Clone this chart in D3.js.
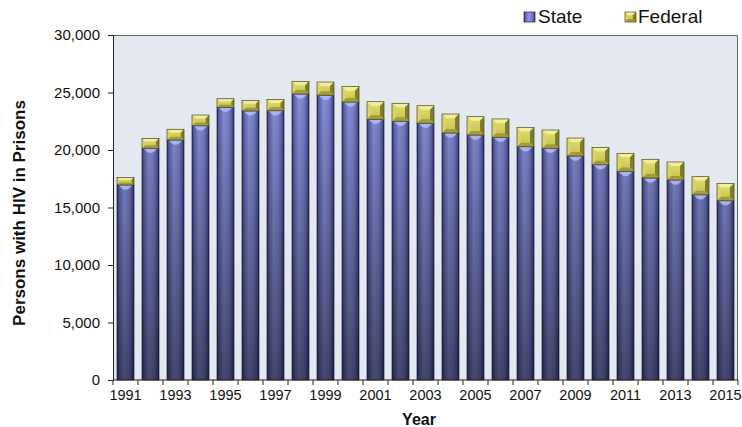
<!DOCTYPE html>
<html>
<head>
<meta charset="utf-8">
<script src="https://cdn.jsdelivr.net/npm/d3@7"></script>
<style>
  body { margin: 0; background: #fff; }
  svg text { font-family: "Liberation Sans", Arial, sans-serif; fill: #111; }
</style>
</head>
<body>
<script>
var years = ["1991", "1992", "1993", "1994", "1995", "1996", "1997", "1998", "1999", "2000",
  "2001", "2002", "2003", "2004", "2005", "2006", "2007", "2008", "2009", "2010",
  "2011", "2012", "2013", "2014", "2015"];
var stateVals = [16960, 20150, 20870, 22110, 23710, 23400, 23420, 24870, 24760, 24170,
  22670, 22500, 22320, 21480, 21300, 21100, 20290, 20150, 19480, 18720,
  18140, 17570, 17390, 16110, 15590];
var federalVals = [660, 860, 930, 930, 750, 900, 980, 1100, 1150, 1340,
  1530, 1560, 1530, 1650, 1600, 1600, 1680, 1590, 1560, 1510,
  1570, 1620, 1570, 1570, 1510];
var yTicks = [0, 5000, 10000, 15000, 20000, 25000, 30000];
var seriesNames = ["State", "Federal"];

var svgWidth = 742, svgHeight = 427;
var margin = { top: 35, right: 4, bottom: 47, left: 113 };
var width = svgWidth - margin.left - margin.right;
var height = svgHeight - margin.top - margin.bottom;

var svg = d3.select("body").append("svg")
  .attr("width", svgWidth)
  .attr("height", svgHeight);

var rows = years.map(function (y, i) {
  return { year: y, State: stateVals[i], Federal: federalVals[i] };
});
var stacked = d3.stack().keys(seriesNames)(rows);

var x = d3.scaleBand().domain(years).range([0, width]).paddingInner(0.32).paddingOuter(0.16);
var y = d3.scaleLinear().domain([0, 30000]).range([height, 0]);

// gradients
var defs = svg.append("defs");
var sg = defs.append("linearGradient").attr("id", "stateH").attr("x1", 0).attr("x2", 1).attr("y1", 0).attr("y2", 0);
[[0, "#2c305c"], [0.1, "#5a60aa"], [0.4, "#8b93dd"], [0.7, "#7a82cc"], [0.9, "#545aa0"], [1, "#23264a"]]
  .forEach(function (s) { sg.append("stop").attr("offset", s[0]).attr("stop-color", s[1]); });
var sv = defs.append("linearGradient").attr("id", "stateV")
  .attr("gradientUnits", "userSpaceOnUse").attr("x1", 0).attr("x2", 0).attr("y1", y(26000)).attr("y2", y(0));
sv.append("stop").attr("offset", 0).attr("stop-color", "#000").attr("stop-opacity", 0);
sv.append("stop").attr("offset", 1).attr("stop-color", "#000").attr("stop-opacity", 0.5);
var fg = defs.append("linearGradient").attr("id", "fedFace").attr("x1", 0).attr("x2", 0).attr("y1", 0).attr("y2", 1);
fg.append("stop").attr("offset", 0).attr("stop-color", "#e2de72");
fg.append("stop").attr("offset", 1).attr("stop-color", "#c4c04e");

var chart = svg.append("g").attr("transform", "translate(" + margin.left + "," + margin.top + ")");

chart.append("rect")
  .attr("width", width).attr("height", height)
  .attr("fill", "#e4e8f1");
chart.append("path")
  .attr("d", "M0,0.5H" + (width - 0.5) + "V" + height)
  .attr("fill", "none").attr("stroke", "#666").attr("stroke-width", 1);

// bevel box used for federal segments and legend
function bevelBox(g, bx, by, bw, bh) {
  var b = Math.min(4, bh / 3.2, bw / 3.2);
  var x0 = bx, x1 = bx + bw, y0 = by, y1 = by + bh;
  g.append("rect").attr("x", x0).attr("y", y0).attr("width", bw).attr("height", bh).attr("fill", "url(#fedFace)");
  g.append("path").attr("d", "M" + x0 + "," + y0 + "L" + x1 + "," + y0 + "L" + (x1 - b) + "," + (y0 + b) + "L" + (x0 + b) + "," + (y0 + b) + "Z").attr("fill", "#f1ee9e");
  g.append("path").attr("d", "M" + x0 + "," + y0 + "L" + (x0 + b) + "," + (y0 + b) + "L" + (x0 + b) + "," + (y1 - b) + "L" + x0 + "," + y1 + "Z").attr("fill", "#d8d46a");
  g.append("path").attr("d", "M" + x1 + "," + y0 + "L" + (x1 - b) + "," + (y0 + b) + "L" + (x1 - b) + "," + (y1 - b) + "L" + x1 + "," + y1 + "Z").attr("fill", "#7f7c2c");
  g.append("path").attr("d", "M" + x0 + "," + y1 + "L" + (x0 + b) + "," + (y1 - b) + "L" + (x1 - b) + "," + (y1 - b) + "L" + x1 + "," + y1 + "Z").attr("fill", "#a09c3a");
  g.append("rect").attr("x", x0).attr("y", y0).attr("width", bw).attr("height", bh)
    .attr("fill", "none").attr("stroke", "#4d4a1c").attr("stroke-width", 0.7);
}

var bars = chart.append("g");
stacked[0].forEach(function (d) {
  var bx = x(d.data.year), bw = x.bandwidth();
  var top = y(d[1]), bh = y(d[0]) - y(d[1]);
  bars.append("rect").attr("x", bx).attr("y", top).attr("width", bw).attr("height", bh).attr("fill", "url(#stateH)");
  bars.append("rect").attr("x", bx).attr("y", top).attr("width", bw).attr("height", bh).attr("fill", "url(#stateV)");
  bars.append("rect").attr("x", bx).attr("y", top).attr("width", bw).attr("height", bh)
    .attr("fill", "none").attr("stroke", "#1f2244").attr("stroke-width", 0.7);
  // light cap at the top of the state column
  bars.append("path")
    .attr("d", "M" + (bx + 2) + "," + (top + 0.5) + "L" + (bx + bw - 2) + "," + (top + 0.5) +
      "Q" + (bx + bw * 0.5) + "," + (top + 9) + "," + (bx + 2) + "," + (top + 0.5) + "Z")
    .attr("fill", "#b4bbf6").attr("opacity", 0.85);
});
stacked[1].forEach(function (d) {
  bevelBox(bars, x(d.data.year), y(d[1]), x.bandwidth(), y(d[0]) - y(d[1]));
});

// axes
var yAxis = chart.append("g")
  .call(d3.axisLeft(y).tickValues(yTicks).tickSize(5).tickSizeOuter(0).tickFormat(d3.format(",")));
yAxis.select(".domain").attr("stroke", "#222");
yAxis.selectAll(".tick line").attr("stroke", "#222");
yAxis.selectAll("text").attr("font-size", "15px").attr("x", -13).attr("fill", "#111");

var xAxis = chart.append("g").attr("transform", "translate(0," + height + ")");
xAxis.append("line").attr("x1", 0).attr("x2", width).attr("stroke", "#222");
var step = x.step();
xAxis.selectAll("line.tk")
  .data(years.concat(["end"]))
  .enter().append("line").attr("class", "tk")
  .attr("x1", function (d, i) { return i * step; })
  .attr("x2", function (d, i) { return i * step; })
  .attr("y1", 0).attr("y2", 5).attr("stroke", "#222");
xAxis.selectAll("text.lb")
  .data(years.filter(function (d, i) { return i % 2 === 0; }))
  .enter().append("text").attr("class", "lb")
  .attr("x", function (d) { return x(d) + x.bandwidth() / 2; })
  .attr("y", 20)
  .attr("text-anchor", "middle")
  .attr("font-size", "14.5px")
  .text(function (d) { return d; });

svg.append("text")
  .attr("x", 419).attr("y", 425)
  .attr("text-anchor", "middle")
  .attr("font-size", "16px").attr("font-weight", "bold")
  .text("Year");

svg.append("text")
  .attr("transform", "translate(25," + 213 + ") rotate(-90)")
  .attr("text-anchor", "middle")
  .attr("font-size", "17px").attr("font-weight", "bold")
  .text("Persons with HIV in Prisons");

// legend
var legend = svg.append("g");
var ls = legend.append("g");
ls.append("rect").attr("x", 524).attr("y", 12).attr("width", 11).attr("height", 10).attr("fill", "url(#stateH)");
ls.append("rect").attr("x", 524).attr("y", 12).attr("width", 11).attr("height", 10)
  .attr("fill", "none").attr("stroke", "#1f2244").attr("stroke-width", 0.7);
legend.append("text").attr("x", 538).attr("y", 23).attr("font-size", "19px").text(seriesNames[0]);
bevelBox(legend, 625, 12, 11, 10);
legend.append("text").attr("x", 638).attr("y", 23).attr("font-size", "19px").text(seriesNames[1]);
</script>
</body>
</html>
